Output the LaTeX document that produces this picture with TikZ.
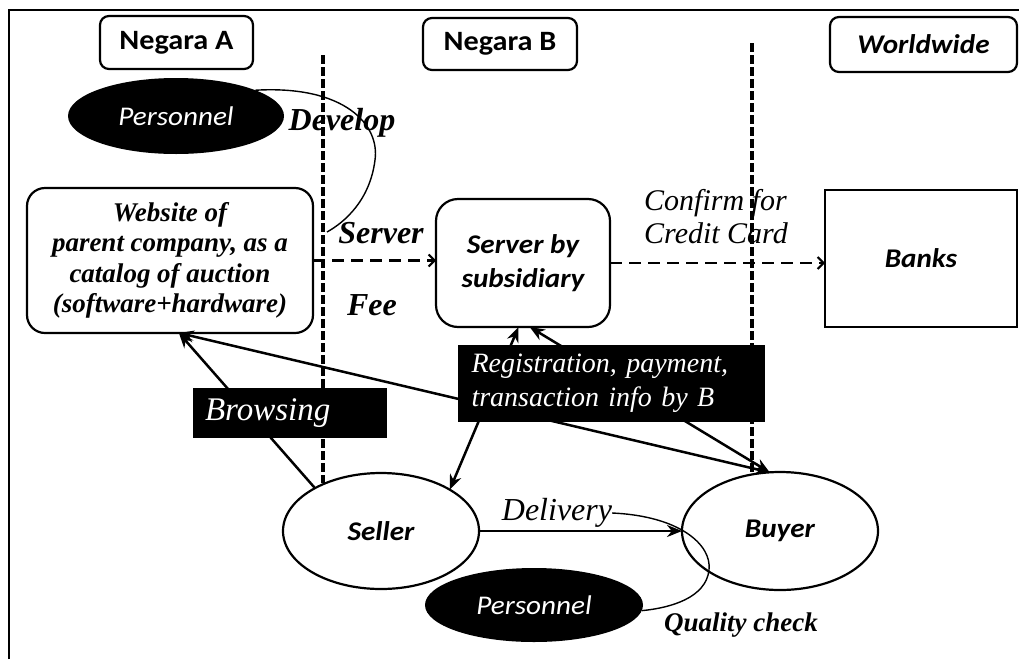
\documentclass[tikz,border=0pt]{standalone}
\usepackage{fontspec}
\setmainfont{Liberation Serif}
\newfontfamily\calib[FakeStretch=1.08]{Carlito}
\usetikzlibrary{arrows.meta,shapes.geometric}

\begin{document}
\begin{tikzpicture}[x=1pt,y=-1pt,
  every node/.style={inner sep=0pt, outer sep=0pt},
  >={Stealth[length=15pt,width=12pt]},
  cbox/.style={draw, line width=2.2pt, rounded corners=9pt},
  sanstxt/.style={font=\calib\fontsize{27}{34}\selectfont\itshape},
  sansbold/.style={font=\calib\fontsize{27}{34}\selectfont\bfseries\itshape},
  darkoval/.style={ellipse, fill=black, text=white, sanstxt},
  plainoval/.style={ellipse, draw, line width=2.2pt, fill=white, sansbold},
  roundbox/.style={draw, line width=2.2pt, fill=white},
  blackbox/.style={fill=black, text=white, align=left},
  arr/.style={line width=2.5pt},
  divider/.style={line width=4pt, dash pattern=on 9pt off 3pt},
  dasharr/.style={line width=2.5pt, dash pattern=on 12pt off 7pt,
    -{Straight Barb[length=6pt,width=12pt,line width=2pt]}},
  thincurve/.style={line width=1.4pt},
  lblbold/.style={font=\fontsize{32}{36}\selectfont\bfseries\itshape},
  lblit/.style={font=\fontsize{31}{33}\selectfont\itshape}
]
\useasboundingbox (0,0) rectangle (1019,659);

% open frame around the figure
\draw[line width=2pt] (9,659) -- (9,10) -- (1019,10);

% country headers
\node[cbox, minimum width=153, minimum height=53,
  font=\calib\fontsize{28}{34}\selectfont\bfseries] (ctyA) at (176.5,42.5) {Negara A};
\node[cbox, minimum width=154, minimum height=52,
  font=\calib\fontsize{28}{34}\selectfont\bfseries] (ctyB) at (500,44) {Negara B};
\node[cbox, minimum width=187, minimum height=55, sansbold] (world) at (923.5,44.5) {Worldwide};

% main boxes
\node[roundbox, rounded corners=18pt, minimum width=286, minimum height=145, align=center,
  font=\fontsize{27}{30.5}\selectfont\bfseries\itshape] (web) at (170,260.5)
  {Website of\\ parent company, as a\\ catalog of auction\\ (software+hardware)};
\node[roundbox, rounded corners=22pt, minimum width=174, minimum height=128, align=center,
  sansbold] (server) at (523,263) {Server by\\ subsidiary};
\node[draw, line width=2.4pt, minimum width=192, minimum height=137, sansbold] (banks)
  at (921,258.5) {Banks};

% actors
\node[plainoval, minimum width=196, minimum height=116] (seller) at (381,531) {Seller};
\node[plainoval, minimum width=196, minimum height=118] (buyer) at (780,531) {Buyer};
\node[darkoval, minimum width=216, minimum height=76] (persA) at (176,116) {Personnel};
\node[darkoval, minimum width=218, minimum height=74] (persB) at (534,605) {Personnel};

% border lines between the countries
\coordinate (d1top) at (323,55);
\coordinate (d1bot) at (323,483);
\coordinate (d2top) at (752,43);
\coordinate (d2bot) at (752,474);
\draw[divider] (d1top) -- (d1bot);
\draw[divider] (d2top) -- (d2bot);

% dashed flows
\draw[dasharr] (web.east) -- (web.east -| server.west);
\draw[dasharr] (server.east) -- (server.east -| banks.west);

% solid flows
\draw[arr, ->] (seller.147) -- (web.-83);
\draw[arr, <->] (buyer.100) -- (web.-83);
\draw[arr, <->] (seller.31) -- (server.-94);
\draw[arr, <->] (buyer.100) -- (server.-84);
\draw[arr, ->] (seller.east) -- (buyer.west);

% info boxes drawn over the flows
\node[blackbox, minimum width=194, minimum height=50, text width=170,
  font=\fontsize{33}{36}\selectfont\itshape] (browse) at (290,413) {Browsing};
\node[blackbox, minimum width=307, minimum height=77, text width=280,
  font=\fontsize{28}{34}\selectfont\itshape] (reg) at (611.5,383.5)
  {Registration, payment,\\ transaction info by B};

% labels
\node[lblbold] (develop) at (342,123) {Develop};
\node[lblbold] (srvlbl) at (381,233) {Server};
\node[lblbold] (fee) at (372,305) {Fee};
\node[lblit, align=left, font=\fontsize{30}{33}\selectfont\itshape] (confirm) at (716,217)
  {Confirm for\\ Credit Card};
\node[lblit, font=\fontsize{32}{36}\selectfont\itshape] (deliv) at (557,513) {Delivery};
\node[font=\fontsize{27}{30}\selectfont\bfseries\itshape] (quality) at (741,625) {Quality check};

% thin loops
\coordinate (devend) at (327,232);
\draw[thincurve] (persA.18) .. controls (345,85) and (380,125) .. (375,160)
  .. controls (370,200) and (345,222) .. (devend);
\draw[thincurve] (deliv.east) .. controls (680,516) and (712,545) .. (709,570)
  .. controls (706,598) and (670,608) .. (persB.-3);
\end{tikzpicture}
\end{document}
